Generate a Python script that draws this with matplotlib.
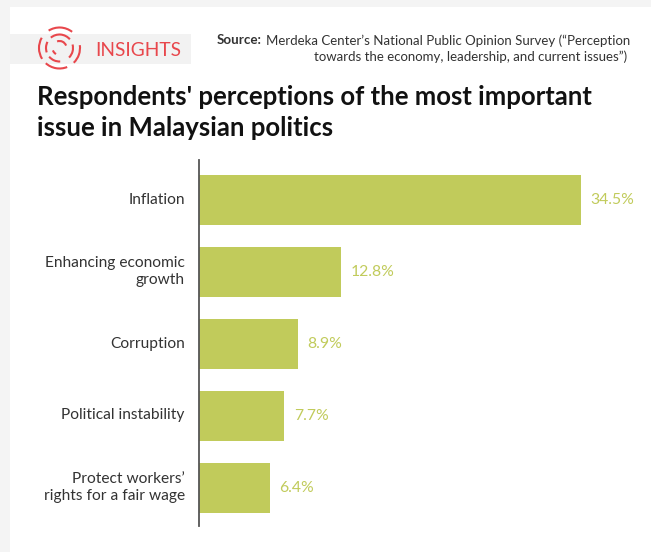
import matplotlib
matplotlib.use('Agg')
import matplotlib.pyplot as plt
from matplotlib.patches import Arc, Rectangle

plt.rcParams['font.family'] = ['Lato', 'DejaVu Sans']

W, H = 651, 552

# Data
issues = ['Inflation', 'Enhancing economic\ngrowth', 'Corruption',
          'Political instability', 'Protect workers’\nrights for a fair wage']
shares = [34.5, 12.8, 8.9, 7.7, 6.4]

bar_color = '#c1cb5b'
label_color = '#333333'
logo_red = '#e8474c'

fig = plt.figure(figsize=(W / 100, H / 100), dpi=100, facecolor='white')

# Page background: full-figure axes in pixel coordinates
bg = fig.add_axes([0, 0, 1, 1])
bg.set_xlim(0, W)
bg.set_ylim(H, 0)
bg.axis('off')
bg.add_patch(Rectangle((0, 0), W, 7, color='#f4f4f4', lw=0))
bg.add_patch(Rectangle((0, 0), 10, H, color='#f4f4f4', lw=0))
bg.add_patch(Rectangle((10, 34), 181, 30, color='#f2f2f2', lw=0))

# Logo rings made of broken arcs, angles counter-clockwise on screen
cx, cy = 59.5, 48
rings = [(20.5, [(52, 122), (150, 212), (228, 292), (314, 8)]),
         (13.5, [(40, 130), (153, 199), (220, 273), (315, 15)]),
         (7, [(20, 110), (200, 240)])]
for r, spans in rings:
    for a, b in spans:
        # the y axis is flipped, so the angles change sign
        bg.add_patch(Arc((cx, cy), 2 * r, 2 * r, theta1=-b, theta2=-a,
                         color=logo_red, lw=1.5))
bg.text(95, 50, 'INSIGHTS', color=logo_red, fontsize=13.8, va='center', ha='left')

# Source lines
bg.text(217, 40.5, 'Source:', color='#333333', fontsize=9.6,
        fontweight='bold', va='center', ha='left')
bg.text(266, 40.5, 'Merdeka Center’s National Public Opinion Survey (“Perception',
        color='#333333', fontsize=9.5, va='center', ha='left')
bg.text(627, 56.5, 'towards the economy, leadership, and current issues”)',
        color='#333333', fontsize=9.5, va='center', ha='right')

# Title
bg.text(37, 97, "Respondents' perceptions of the most important", color='#111111',
        fontsize=18.5, fontweight='bold', va='center', ha='left')
bg.text(37, 128.5, 'issue in Malaysian politics', color='#111111',
        fontsize=18.5, fontweight='bold', va='center', ha='left')

# Bar chart
left, right, top, bottom = 199, 640, 160, 526
ax = fig.add_axes([left / W, 1 - bottom / H, (right - left) / W, (bottom - top) / H])
ax.patch.set_alpha(0)
ypos = list(range(len(issues)))
ax.barh(ypos, shares, height=50 / 72, color=bar_color)
ax.set_xlim(0, (right - left) / 11.07)
ax.set_ylim((526 - 199.5) / 72, (160 - 199.5) / 72)
for spine in ['top', 'right', 'bottom']:
    ax.spines[spine].set_visible(False)
ax.spines['left'].set_color('#555555')
ax.spines['left'].set_linewidth(1.3)
ax.set_xticks([])
ax.set_yticks(ypos)
ax.set_yticklabels(issues, fontsize=11.2, color=label_color, linespacing=1.33, ha='right',
                   va='center')
ax.tick_params(axis='y', length=0, pad=10.3)
for y, v in zip(ypos, shares):
    ax.annotate(f'{v}%', (v, y), xytext=(7, -0.3), textcoords='offset points',
                color=bar_color, fontsize=11.3, va='center', ha='left')

fig.savefig('out.png', dpi=100)
